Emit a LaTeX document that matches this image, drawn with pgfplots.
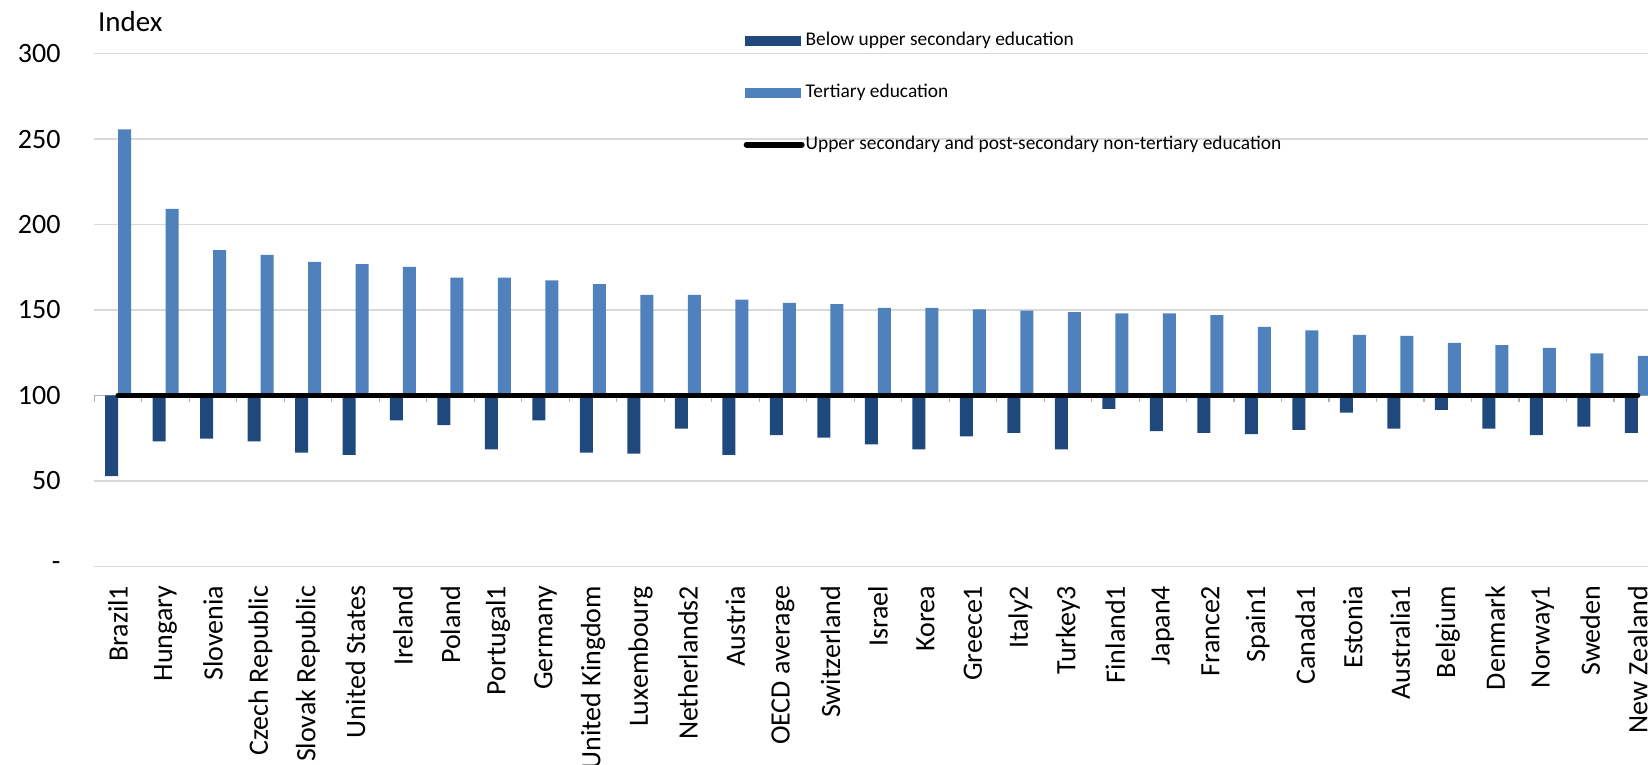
\documentclass[border=0pt]{standalone}
\usepackage{fontspec}
\setmainfont{Carlito}
\usepackage{pgfplots}
\pgfplotsset{compat=1.18}
\usepackage{pgfplotstable}

\definecolor{darkblue}{HTML}{1F497D}
\definecolor{lightblue}{HTML}{4F81BD}
\definecolor{gridgray}{HTML}{D9D9D9}

% index values, upper secondary = 100
\pgfplotstableread{
idx below tertiary upper
0  52.8 255.6 100
1  73.2 209.1 100
2  74.7 185.1 100
3  73.2 182.2 100
4  66.6 178.2 100
5  65.3 176.8 100
6  85.5 175.3 100
7  82.6 169.0 100
8  68.4 169.0 100
9  85.5 167.4 100
10 66.6 165.2 100
11 66.0 158.9 100
12 80.6 158.9 100
13 65.3 156.0 100
14 76.8 154.2 100
15 75.4 153.5 100
16 71.4 151.3 100
17 68.4 151.3 100
18 76.1 150.4 100
19 78.1 149.7 100
20 68.4 148.8 100
21 92.2 148.0 100
22 79.2 148.0 100
23 78.1 147.0 100
24 77.4 140.1 100
25 79.9 138.1 100
26 89.9 135.4 100
27 80.6 134.8 100
28 91.5 130.7 100
29 80.6 129.4 100
30 76.8 127.8 100
31 81.7 124.6 100
32 78.1 123.1 100
}\data

\begin{document}
\begin{tikzpicture}
\begin{axis}[
  name=ax,
  scale only axis,
  width=783.6pt, height=256.4pt,
  xmin=-0.5, xmax=32.5,
  ymin=-100, ymax=200,
  axis x line=middle,
  axis y line=left,
  x axis line style={-, draw=gray!60, line width=0.6pt},
  y axis line style={draw=none},
  hide obscured x ticks=false,
  hide obscured y ticks=false,
  xtick={0,...,32},
  xticklabels={Brazil1,Hungary,Slovenia,Czech Republic,Slovak Republic,United States,Ireland,Poland,Portugal1,Germany,United Kingdom,Luxembourg,Netherlands2,Austria,OECD average,Switzerland,Israel,Korea,Greece1,Italy2,Turkey3,Finland1,Japan4,France2,Spain1,Canada1,Estonia,Australia1,Belgium,Denmark,Norway1,Sweden,New Zealand},
  minor xtick={-0.5,0.5,...,32.5},
  major tick length=0pt,
  minor tick length=3.5pt,
  tick align=outside,
  minor tick style={gray!60, line width=0.6pt},
  xticklabel style={font=\fontsize{14}{16}\selectfont, inner sep=0pt, yshift=-95pt, rotate=90, anchor=east},
  ytick={-100,-50,0,50,100,150,200},
  yticklabels={{-\hspace{5.5pt}},50,100,150,200,250,300},
  yticklabel style={font=\fontsize{14}{16}\selectfont, inner sep=0pt, anchor=east, xshift=-16.7pt},
  /pgf/number format/assume math mode=true,
  ymajorgrids,
  major grid style={gridgray, line width=0.6pt},
  legend cell align=left,
  legend style={at={(rel axis cs:0.4141,1.0435)}, anchor=north west, draw=none, fill=none,
    inner sep=0pt, row sep=16.35pt, column sep=0.5pt,
    font=\fontsize{9.7}{11}\selectfont,
    nodes={inner sep=0pt, text height=7pt, text depth=2.5pt}},
]
\addplot[ybar, bar width=6.5pt, bar shift=-3.25pt, fill=darkblue, draw=none,
  legend image code/.code={\fill[darkblue] (0pt,-2.5pt) rectangle (28pt,2.5pt);}]
  table[x=idx, y expr=\thisrow{below}-100] {\data};
\addplot[ybar, bar width=6.5pt, bar shift=3.25pt, fill=lightblue, draw=none,
  legend image code/.code={\fill[lightblue] (0pt,-2.5pt) rectangle (28pt,2.5pt);}]
  table[x=idx, y expr=\thisrow{tertiary}-100] {\data};
\addplot[black, line width=2.6pt, line cap=round, mark=none,
  legend image code/.code={\draw[black, line width=3pt, line cap=round] (0.7pt,0pt) -- (28.2pt,0pt);}]
  table[x=idx, y expr=\thisrow{upper}-100] {\data};
\legend{Below upper secondary education, Tertiary education, Upper secondary and post-secondary non-tertiary education}
\end{axis}
\node[anchor=base west, inner sep=0pt, font=\fontsize{14.5}{17}\selectfont, xshift=1.7pt, yshift=10.8pt] at (ax.north west) {Index};
\pgfresetboundingbox
\path[use as bounding box] ([shift={(-47.15pt,-99.3pt)}]ax.south west) rectangle ([shift={(776.85pt,26.8pt)}]ax.north west);
\end{tikzpicture}
\end{document}
